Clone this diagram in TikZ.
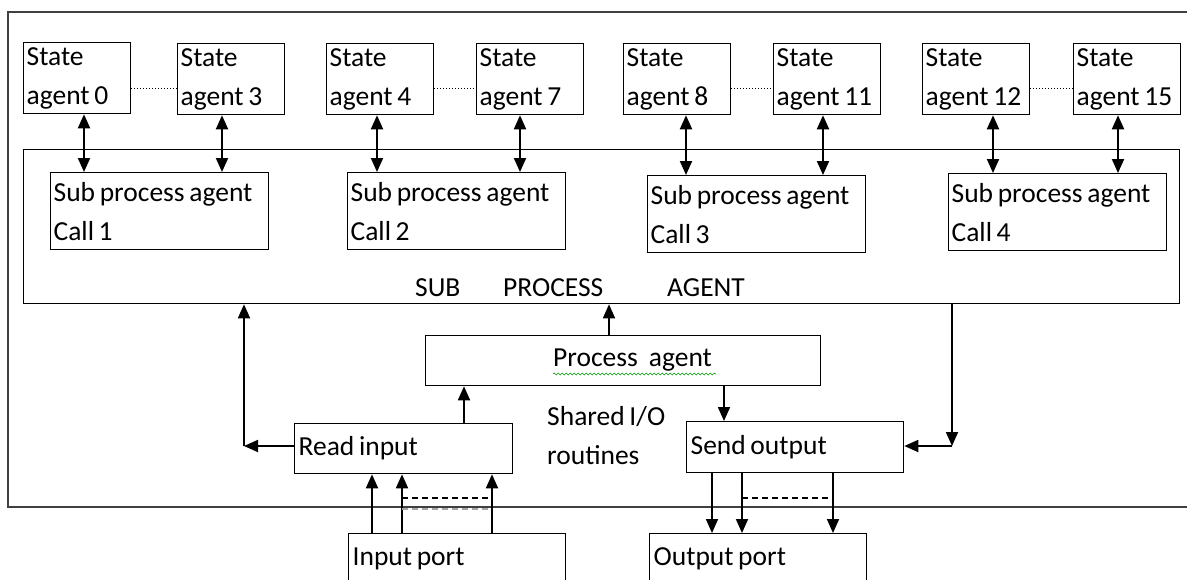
\documentclass[tikz,border=0pt]{standalone}
\usepackage{fontspec}
\setmainfont{Carlito}
\usetikzlibrary{arrows.meta,decorations.pathmorphing}

\begin{document}
\begin{tikzpicture}[x=1pt,y=-1pt,
  every node/.style={font=\fontsize{27.5}{39}\selectfont,
    execute at begin node={\spaceskip=0.17em\relax}},
  box/.style={draw, line width=1.3pt, inner xsep=4pt, inner ysep=0pt,
    align=left, anchor=north west},
  statebox/.style={box, inner xsep=3pt, text width=101pt, minimum height=71pt},
  callbox/.style={box, inner xsep=3pt, text width=212pt, minimum height=77pt},
  iobox/.style={box, text width=210pt, minimum height=50pt},
  plainbox/.style={draw, line width=1.3pt, inner sep=0pt, anchor=north west},
  txt/.style={inner sep=0pt, anchor=base west},
  tipT/.tip={Triangle[length=14pt,width=12pt]},
  dbl/.style={tipT-tipT, line width=2pt},
  arr/.style={-tipT, line width=1.8pt},
  dotline/.style={line width=1pt, dotted},
  dashline/.style={line width=1.2pt, dash pattern=on 6pt off 4pt},
  outerframe/.style={line width=1.8pt, black!75}
]
\clip (0,0) rectangle (1187,579);

% outer frame (its right edge lies past the page)
\draw[outerframe] (8,12) rectangle (1210,507);

% state agents
\node[statebox] (s0)  at (23,42)   {State\\agent 0};
\node[statebox] (s3)  at (177,43)  {State\\agent 3};
\node[statebox] (s4)  at (326,43)  {State\\agent 4};
\node[statebox] (s7)  at (476,43)  {State\\agent 7};
\node[statebox] (s8)  at (623,43)  {State\\agent 8};
\node[statebox] (s11) at (773,43)  {State\\agent 11};
\node[statebox] (s12) at (922,43)  {State\\agent 12};
\node[statebox] (s15) at (1073,43) {State\\agent 15};

\draw[dotline] (s0.east  |- 0,88) -- (s3.west  |- 0,88);
\draw[dotline] (s4.east  |- 0,88) -- (s7.west  |- 0,88);
\draw[dotline] (s8.east  |- 0,88) -- (s11.west |- 0,88);
\draw[dotline] (s12.east |- 0,88) -- (s15.west |- 0,88);

% sub process agent block
\node[plainbox, minimum width=1156pt, minimum height=154pt] (spa) at (23,149) {};
\node[callbox] (c1) at (50,172)  {Sub process agent\\Call 1};
\node[callbox] (c2) at (347,172) {Sub process agent\\Call 2};
\node[callbox] (c3) at (647,175) {Sub process agent\\Call 3};
\node[callbox] (c4) at (948,173) {Sub process agent\\Call 4};

\node[txt] (tsub)  at (415,296) {SUB};
\node[txt] (tproc) at (503,296) {PROCESS};
\node[txt] (tagt)  at (667,296) {AGENT};

% links between state agents and calls
\draw[dbl] (84,0   |- s0.south)  -- (84,0   |- c1.north);
\draw[dbl] (222,0  |- s3.south)  -- (222,0  |- c1.north);
\draw[dbl] (377,0  |- s4.south)  -- (377,0  |- c2.north);
\draw[dbl] (520,0  |- s7.south)  -- (520,0  |- c2.north);
\draw[dbl] (686,0  |- s8.south)  -- (686,0  |- c3.north);
\draw[dbl] (823,0  |- s11.south) -- (823,0  |- c3.north);
\draw[dbl] (993,0  |- s12.south) -- (993,0  |- c4.north);
\draw[dbl] (1118,0 |- s15.south) -- (1118,0 |- c4.north);

% process agent
\node[plainbox, minimum width=395pt, minimum height=50pt] (pa) at (425,335) {};
\node[txt] (patext) at (553,366) {Process\hspace{11pt}agent};
\draw[green!60!black, line width=0.6pt, decorate,
  decoration={snake, amplitude=1pt, segment length=4pt}] (553,374) -- (716,374);

\node[txt] (sh1) at (547,425) {Shared I/O};
\node[txt] (sh2) at (547,464) {routines};

% shared I/O routines
\node[iobox] (ri) at (294,423) {Read input};
\node[iobox, text width=209pt, minimum height=51pt] (so) at (686,421) {Send output};

\draw[arr] (609,0 |- pa.north) -- (609,0 |- spa.south);
\draw[arr] (464,0 |- ri.north) -- (464,0 |- pa.south);
\draw[arr] (724,0 |- pa.south) -- (724,0 |- so.north);

\coordinate (lc) at (244,446);
\draw[arr] (ri.west |- lc) -- (lc);
\draw[arr] (lc) -- (lc |- spa.south);

\coordinate (rc) at (952,446);
\draw[arr] (rc |- spa.south) -- (rc);
\draw[arr] (rc) -- (so.east |- rc);

% ports
\node[iobox, text width=209pt] (ip) at (348,533) {Input port};
\node[iobox, text width=209pt] (op) at (649,533) {Output port};

\draw[arr] (372,0 |- ip.north) -- (372,0 |- ri.south);
\draw[arr] (402,0 |- ip.north) -- (402,0 |- ri.south);
\draw[arr] (492,0 |- ip.north) -- (492,0 |- ri.south);
\draw[dashline] (402,498) -- (492,498);
\draw[dashline, black!35] (402,509) -- (492,509);

\draw[arr] (712,0 |- so.south) -- (712,0 |- op.north);
\draw[arr] (742,0 |- so.south) -- (742,0 |- op.north);
\draw[arr] (833,0 |- so.south) -- (833,0 |- op.north);
\draw[dashline] (742,498) -- (833,498);
\end{tikzpicture}
\end{document}
